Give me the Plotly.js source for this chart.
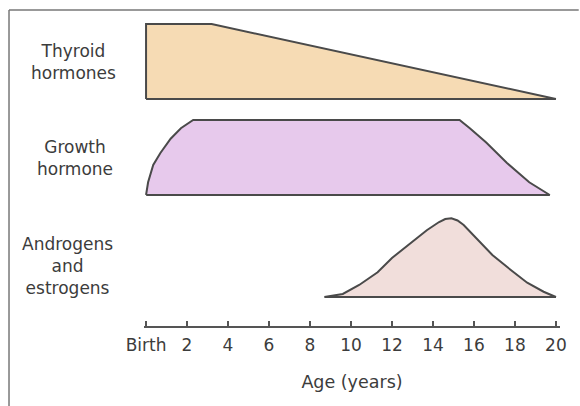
<!DOCTYPE html>
<html>
<head>
<meta charset="utf-8">
<script src="https://cdn.plot.ly/plotly-3.0.1.min.js"></script>
<style>html,body{margin:0;padding:0;background:#fff;}#chart{width:580px;height:406px;}</style>
</head>
<body>
<div id="chart"></div>
<script>
// ---- Data ----
const hormoneLabels = ['Thyroid<br>hormones', 'Growth<br>hormone', 'Androgens<br>and<br>estrogens'];

// Thyroid hormones: relative level by age (years)
const thyroidAge   = [0, 0, 3.2, 20];
const thyroidLevel = [0, 1, 1, 0];

// Growth hormone
const growthAge   = [0, 0.1, 0.35, 0.7, 1.2, 1.7, 2.3, 15.3, 15.8, 16.6, 17.6, 18.7, 19.7];
const growthLevel = [0, 0.17, 0.4, 0.56, 0.75, 0.89, 1.0, 1.0, 0.89, 0.70, 0.43, 0.17, 0];

// Androgens and estrogens
const sexAge   = [8.7, 9.6, 10.4, 11.3, 12.0, 12.9, 13.7, 14.3, 14.6, 14.9, 15.2, 15.5, 16.1, 16.9, 17.8, 18.6, 19.4, 20];
const sexLevel = [0, 0.04, 0.16, 0.33, 0.52, 0.71, 0.89, 1.0, 1.04, 1.05, 1.02, 0.96, 0.79, 0.56, 0.36, 0.19, 0.07, 0];

// Axis ticks
const tickAges   = [0, 2, 4, 6, 8, 10, 12, 14, 16, 18, 20];
const tickLabels = ['Birth', '2', '4', '6', '8', '10', '12', '14', '16', '18', '20'];

// ---- Build closed outlines ----
function closed(arr) { return arr.concat([arr[0]]); }
const outline = {color: '#4a4a4a', width: 2};

const traces = [
  {x: closed(thyroidAge), y: closed(thyroidLevel), xaxis: 'x', yaxis: 'y',
   type: 'scatter', mode: 'lines', fill: 'toself', fillcolor: '#f6dbb4', line: outline, hoverinfo: 'skip'},
  {x: closed(growthAge), y: closed(growthLevel), xaxis: 'x', yaxis: 'y2',
   type: 'scatter', mode: 'lines', fill: 'toself', fillcolor: '#e7c9ec', line: outline, hoverinfo: 'skip'},
  {x: closed(sexAge), y: closed(sexLevel), xaxis: 'x', yaxis: 'y3',
   type: 'scatter', mode: 'lines', fill: 'toself', fillcolor: '#f1dedb', line: outline, hoverinfo: 'skip'}
];

const yCommon = {visible: false, range: [-0.08, 1.12], fixedrange: true};
const txtFont = {family: 'DejaVu Sans, sans-serif', size: 17, color: '#3c3c3c'};

const layout = {
  width: 580, height: 406,
  margin: {l: 144, r: 20, t: 10, b: 80},
  paper_bgcolor: '#ffffff', plot_bgcolor: 'rgba(0,0,0,0)',
  showlegend: false,
  xaxis: {
    range: [-0.1, 20.2], anchor: 'free', position: 0,
    showline: true, linecolor: '#555', linewidth: 1.5,
    ticks: 'inside', ticklen: 5, tickwidth: 1.2, tickcolor: '#555',
    tickvals: tickAges, ticktext: tickLabels, ticklabelstandoff: 3,
    tickfont: txtFont, showgrid: false, zeroline: false,
    title: {text: 'Age (years)', font: {family: 'DejaVu Sans, sans-serif', size: 17.5, color: '#3c3c3c'}, standoff: 22},
    fixedrange: true
  },
  yaxis:  Object.assign({domain: [0.6994, 0.9842]}, yCommon),
  yaxis2: Object.assign({domain: [0.3956, 0.6804]}, yCommon),
  yaxis3: Object.assign({domain: [0.0728, 0.3576]}, yCommon),
  annotations: [
    {text: hormoneLabels[0], xref: 'paper', yref: 'paper', x: -0.1683, y: 0.8339, xanchor: 'center', yanchor: 'middle', showarrow: false, align: 'center', font: txtFont},
    {text: hormoneLabels[1], xref: 'paper', yref: 'paper', x: -0.1659, y: 0.5301, xanchor: 'center', yanchor: 'middle', showarrow: false, align: 'center', font: txtFont},
    {text: hormoneLabels[2], xref: 'paper', yref: 'paper', x: -0.1827, y: 0.1899, xanchor: 'center', yanchor: 'middle', showarrow: false, align: 'center', font: txtFont}
  ],
  shapes: [
    {type: 'line', xref: 'paper', yref: 'paper', x0: -0.3245, x1: 1.045, y0: 1.0, y1: 1.0, line: {color: '#777', width: 1.5}},
    {type: 'line', xref: 'paper', yref: 'paper', x0: -0.3245, x1: -0.3245, y0: 1.0, y1: -0.26, line: {color: '#777', width: 1.5}}
  ]
};

Plotly.newPlot('chart', traces, layout, {staticPlot: true, displayModeBar: false});
</script>
</body>
</html>
